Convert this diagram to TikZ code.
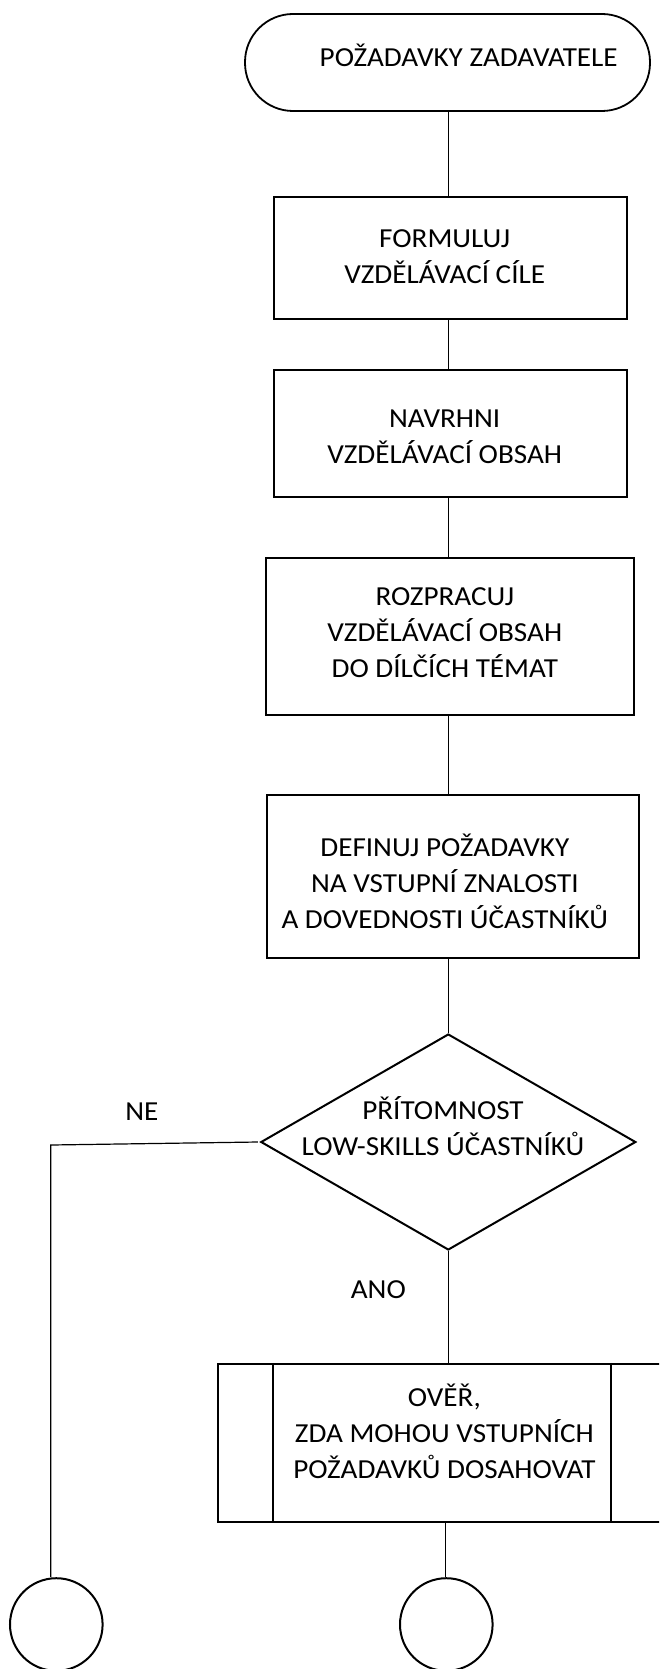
\documentclass[tikz,border=0pt]{standalone}
\usepackage{fontspec}
\setmainfont[FakeStretch=1.06]{Carlito}
\usetikzlibrary{shapes.geometric}
\newcommand\fl{\rule[-9pt]{0pt}{36pt}}
\begin{document}
\begin{tikzpicture}[x=1pt,y=-1pt,
  every node/.style={font=\fontsize{27.5}{36}\selectfont},
  termbox/.style={draw, line width=1.8pt, rounded corners=48pt, inner sep=0pt},
  procbox/.style={draw, line width=2.2pt, inner sep=0pt},
  decbox/.style={draw, diamond, line width=2pt, inner sep=0pt},
  endcirc/.style={draw, circle, line width=2pt, inner sep=0pt, minimum size=92.6pt},
  txt/.style={inner sep=0pt, align=center},
  conn/.style={line width=1.2pt}]
\useasboundingbox (0,0) rectangle (659,1669);
\clip (0,0) rectangle (659,1669);
% shapes
\node[termbox, minimum width=405pt, minimum height=97pt] (term) at (447.5,62.5) {};
\node[procbox, minimum width=352.4pt, minimum height=122.6pt] (b1) at (450.5,258) {};
\node[procbox, minimum width=352.4pt, minimum height=127.3pt] (b2) at (450.5,433.65) {};
\node[procbox, minimum width=368.3pt, minimum height=157.3pt] (b3) at (450.2,636.3) {};
\node[procbox, minimum width=372.6pt, minimum height=163pt] (b4) at (453,876.5) {};
\node[decbox, minimum width=375pt, minimum height=216pt] (dec) at (448.3,1142) {};
\node[procbox, minimum width=447.7pt, minimum height=157.7pt] (sub) at (442.2,1442.85) {};
\draw[line width=2.2pt] ([xshift=55.7pt]sub.north west) -- ([xshift=55.7pt]sub.south west);
\draw[line width=2.2pt] ([xshift=-56pt]sub.north east) -- ([xshift=-56pt]sub.south east);
\node[endcirc] (c1) at (56.3,1624.5) {};
\node[endcirc] (c2) at (446.3,1624.5) {};
% texts
\node[txt] (t0) at (468.7,58) {\fl POŽADAVKY ZADAVATELE};
\node[txt] (t1) at (444.7,256.7) {\fl FORMULUJ\\\fl VZDĚLÁVACÍ CÍLE};
\node[txt] (t2) at (444.7,436.2) {\fl NAVRHNI\\\fl VZDĚLÁVACÍ OBSAH};
\node[txt] (t3) at (444.8,632.3) {\fl ROZPRACUJ\\\fl VZDĚLÁVACÍ OBSAH\\\fl DO DÍLČÍCH TÉMAT};
\node[txt] (t4) at (444.8,883.2) {\fl DEFINUJ POŽADAVKY\\\fl NA VSTUPNÍ ZNALOSTI\\\fl A DOVEDNOSTI ÚČASTNÍKŮ};
\node[txt] (t5) at (443,1128.8) {\fl PŘÍTOMNOST\\\fl LOW-SKILLS ÚČASTNÍKŮ};
\node[txt] (t6) at (444.4,1433.3) {\fl OVĚŘ,\\\fl ZDA MOHOU VSTUPNÍCH\\\fl POŽADAVKŮ DOSAHOVAT};
\node[txt] (ne) at (141.8,1111) {\fl NE};
\node[txt] (ano) at (378.3,1289) {\fl ANO};
% connectors
\coordinate (sp) at (448.3,0);
\coordinate (corner) at (50.7,1145);
\draw[conn] (sp |- term.south) -- (sp |- b1.north);
\draw[conn] (sp |- b1.south) -- (sp |- b2.north);
\draw[conn] (sp |- b2.south) -- (sp |- b3.north);
\draw[conn] (sp |- b3.south) -- (sp |- b4.north);
\draw[conn] (sp |- b4.south) -- (dec.north);
\draw[conn] (dec.south) -- (sp |- sub.north);
\draw[conn] ([xshift=-2pt]dec.west) -- (corner) -- (corner |- c1.north);
\draw[conn] ([xshift=-0.6pt]c2.north |- sub.south) -- ([xshift=-0.6pt]c2.north);
\end{tikzpicture}
\end{document}
